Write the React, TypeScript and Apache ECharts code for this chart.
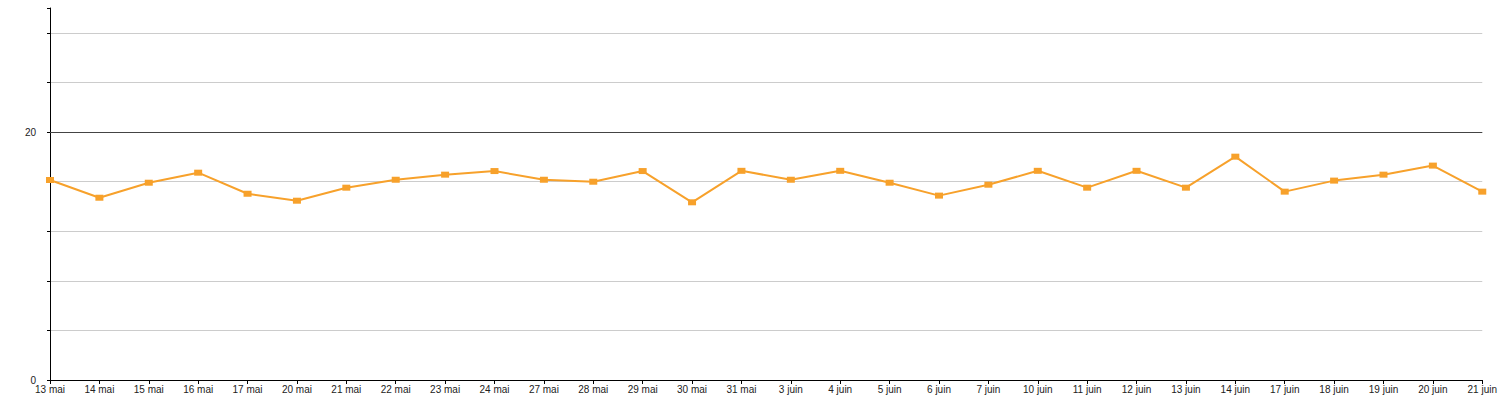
import React, { useEffect, useRef } from "react";
import * as echarts from "echarts";

const categories = [
  "13 mai", "14 mai", "15 mai", "16 mai", "17 mai", "20 mai", "21 mai", "22 mai",
  "23 mai", "24 mai", "27 mai", "28 mai", "29 mai", "30 mai", "31 mai",
  "3 juin", "4 juin", "5 juin", "6 juin", "7 juin", "10 juin", "11 juin",
  "12 juin", "13 juin", "14 juin", "17 juin", "18 juin", "19 juin", "20 juin", "21 juin",
];

const values = [
  16.13, 14.7, 15.91, 16.72, 15.02, 14.46, 15.51, 16.15,
  16.56, 16.85, 16.15, 15.99, 16.85, 14.33, 16.87,
  16.15, 16.87, 15.91, 14.87, 15.75, 16.87, 15.51,
  16.87, 15.51, 18.01, 15.19, 16.08, 16.56, 17.29, 15.19,
];

const yLabels = [0, 20];

const App = () => {
  const chartRef = useRef<HTMLDivElement>(null);

  useEffect(() => {
    if (!chartRef.current) return;
    const chart = echarts.init(chartRef.current, undefined, { renderer: "svg" });

    chart.setOption({
      animation: false,
      backgroundColor: "#ffffff",
      grid: { left: 50, right: 14, top: 8, bottom: 20 },
      xAxis: {
        type: "category",
        data: categories,
        boundaryGap: false,
        axisLine: { lineStyle: { color: "#000", width: 1 } },
        axisTick: { alignWithLabel: true, length: 4, lineStyle: { color: "#000" } },
        axisLabel: {
          interval: 0,
          color: "#222",
          fontSize: 10,
          fontFamily: "Liberation Sans, Arial, sans-serif",
          margin: 4,
        },
        splitLine: { show: false },
      },
      yAxis: {
        type: "value",
        min: 0,
        max: 30,
        interval: 4,
        axisLine: { show: true, lineStyle: { color: "#000", width: 1 } },
        axisTick: { show: true, length: 3, lineStyle: { color: "#000" } },
        axisLabel: {
          color: "#222",
          fontSize: 10,
          fontFamily: "Liberation Sans, Arial, sans-serif",
          margin: 14,
          formatter: (v: number) => (yLabels.includes(v) ? String(v) : ""),
        },
        splitLine: {
          show: true,
          showMaxLine: false,
          lineStyle: { color: "#cccccc", width: 1 },
        },
      },
      series: [
        {
          type: "line",
          data: values,
          symbol: "rect",
          symbolSize: [8, 6],
          showAllSymbol: true,
          lineStyle: { color: "#f7a12b", width: 2 },
          itemStyle: { color: "#f7a12b" },
          z: 5,
          markLine: {
            silent: true,
            symbol: "none",
            label: { show: false },
            lineStyle: { color: "#444", type: "solid", width: 1 },
            data: [{ yAxis: 20 }],
            z: 3,
          },
        },
      ],
    });

    return () => {
      chart.dispose();
    };
  }, []);

  return (
    <div
      ref={chartRef}
      style={{ position: "fixed", left: 0, top: 0, width: 1500, height: 400 }}
    />
  );
};

export default App;
